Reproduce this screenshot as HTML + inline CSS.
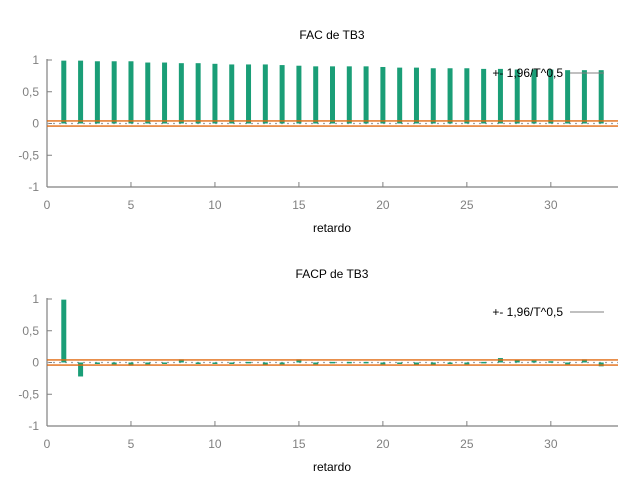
<!DOCTYPE html>
<html><head><meta charset="utf-8"><style>
body{margin:0;background:#fff;font-family:"Liberation Sans",sans-serif}
svg text{font-family:"Liberation Sans",sans-serif}
</style></head><body>
<svg id="c" width="640" height="480" xmlns="http://www.w3.org/2000/svg"></svg>
<script>
const lags=[1,2,3,4,5,6,7,8,9,10,11,12,13,14,15,16,17,18,19,20,21,22,23,24,25,26,27,28,29,30,31,32,33];
const acfValues=[0.99,0.99,0.98,0.98,0.98,0.96,0.96,0.95,0.95,0.94,0.93,0.93,0.93,0.92,0.91,0.90,0.90,0.90,0.90,0.89,0.88,0.88,0.87,0.87,0.87,0.86,0.86,0.85,0.85,0.85,0.84,0.84,0.84];
const pacfValues=[0.99,-0.22,-0.02,-0.03,-0.05,-0.03,-0.01,0.05,0.0,0.0,-0.01,0.01,-0.04,-0.03,0.05,-0.03,0.01,0.01,0.01,-0.03,0.0,-0.04,-0.04,0.0,-0.03,0.01,0.07,0.04,0.03,0.02,-0.03,0.05,-0.06];
const yTicks=[1,0.5,0,-0.5,-1];
const yTickLabels=["1","0,5","0","-0,5","-1"];
const xTicks=[0,5,10,15,20,25,30];
const band=0.04;
const svg=document.getElementById('c');
const NS='http://www.w3.org/2000/svg';
function mk(t,a,p){const e=document.createElementNS(NS,t);for(const k in a)e.setAttribute(k,a[k]);(p||svg).appendChild(e);return e;}
function panel(title,vals,top,name){
  const g=mk('g',{});
  
  
  const x0=47,x1=618,yTop=top,yBot=top+127;
  const X=v=>x0+(v/34)*(x1-x0);
  const Y=v=>yTop+(1-v)/2*(yBot-yTop);
  const t=mk('text',{x:332,y:top-21,'text-anchor':'middle','font-size':12,fill:'#000'},g);t.textContent=title;
  
  
  mk('line',{x1:x0,y1:yTop-1,x2:x0,y2:yBot,stroke:'#808080','stroke-width':1.2},g);
  mk('line',{x1:x0,y1:yBot,x2:x1,y2:yBot,stroke:'#808080','stroke-width':1.2},g);
  yTicks.forEach((v,i)=>{mk('line',{x1:x0,y1:Y(v),x2:x0+5,y2:Y(v),stroke:'#808080'},g);
    const l=mk('text',{x:x0-8,y:Y(v)+4,'text-anchor':'end','font-size':12,fill:'#808080'},g);l.textContent=yTickLabels[i];
    
    });
  xTicks.forEach(v=>{mk('line',{x1:X(v),y1:yBot,x2:X(v),y2:yBot-5,stroke:'#808080'},g);
    const l=mk('text',{x:X(v),y:yBot+22,'text-anchor':'middle','font-size':12,fill:'#808080'},g);l.textContent=v;
    
    });
  const xl=mk('text',{x:332,y:yBot+45,'text-anchor':'middle','font-size':12,fill:'#000'},g);xl.textContent='retardo';
  
  
  mk('line',{x1:x0,y1:Y(0),x2:x1,y2:Y(0),stroke:'#a0a0a0','stroke-dasharray':'2,4','stroke-width':1.2},g);
  vals.forEach((v,i)=>{const y=Math.min(Y(v),Y(0)),h=Math.abs(Y(v)-Y(0));
    const b=mk('rect',{x:X(lags[i])-2.5,y:y,width:5,height:Math.max(h,1.5),fill:'#1a9e77'},g);
    
    });
  mk('line',{x1:x0,y1:Y(band),x2:x1,y2:Y(band),stroke:'#e06a10','stroke-width':1.3},g);
  mk('line',{x1:x0,y1:Y(-band),x2:x1,y2:Y(-band),stroke:'#e06a10','stroke-width':1.3},g);
  const lg=mk('text',{x:563,y:top+17,'text-anchor':'end','font-size':12,fill:'#000'},g);lg.textContent='+- 1,96/T^0,5';
  
  
  mk('line',{x1:570,y1:top+13,x2:604,y2:top+13,stroke:'#808080','stroke-width':1},g);
}
panel('FAC de TB3',acfValues,60,'acf-panel');
panel('FACP de TB3',pacfValues,299,'pacf-panel');
</script>
</body></html>
